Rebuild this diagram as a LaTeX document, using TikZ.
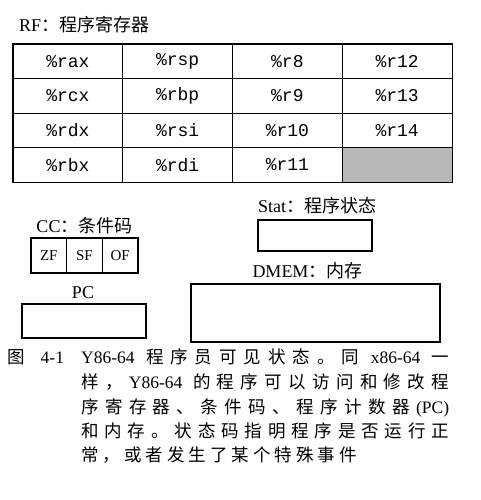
\documentclass[tikz,border=0pt]{standalone}
\usepackage{fontspec}
\setmainfont{Liberation Serif}
\setmonofont{Liberation Mono}
\newfontfamily\cjk{Noto Sans CJK SC}
\makeatletter
% spread the items of a line evenly over a fixed width
\newcommand\spreadline[2]{\makebox[#1][s]{\@tfor\@ch:=#2\do{{\@ch}\hfill}\unskip}}
% set the items of a line with a fixed gap between them
\newcommand\gapline[2]{\@tfor\@ch:=#2\do{{\@ch}\hspace{#1}}\unskip}
\makeatother
\newcommand\lat{\rmfamily}
\begin{document}
\begin{tikzpicture}[x=1pt,y=-1pt,
  reg/.style={draw, line width=0.9pt, minimum width=109.75pt, minimum height=34.5pt,
    inner sep=0pt, font=\ttfamily\fontsize{18}{18}\selectfont},
  box/.style={draw, line width=1.4pt, inner sep=0pt},
  flagbox/.style={draw, line width=1.3pt, inner sep=0pt, minimum width=35.67pt,
    minimum height=35pt, font=\fontsize{15}{15}\selectfont},
  lbl/.style={inner sep=0pt, anchor=base, font=\fontsize{18}{18}\selectfont},
  captxt/.style={inner sep=0pt, anchor=base west, font=\cjk\fontsize{17.5}{17.5}\selectfont}]
\useasboundingbox (0,0) rectangle (481,500);

% register file
\node[lbl, anchor=base west] (rf) at (19,32) {RF{\cjk ：程序寄存器}};
\node[reg] (rax) at (67.875,61.25) {\%rax};
\node[reg] (rsp) at (177.625,61.25) {\%rsp};
\node[reg] (r8)  at (287.375,61.25) {\%r8};
\node[reg] (r12) at (397.125,61.25) {\%r12};
\node[reg] (rcx) at (67.875,95.75) {\%rcx};
\node[reg] (rbp) at (177.625,95.75) {\%rbp};
\node[reg] (r9)  at (287.375,95.75) {\%r9};
\node[reg] (r13) at (397.125,95.75) {\%r13};
\node[reg] (rdx) at (67.875,130.25) {\%rdx};
\node[reg] (rsi) at (177.625,130.25) {\%rsi};
\node[reg] (r10) at (287.375,130.25) {\%r10};
\node[reg] (r14) at (397.125,130.25) {\%r14};
\node[reg] (rbx) at (67.875,164.75) {\%rbx};
\node[reg] (rdi) at (177.625,164.75) {\%rdi};
\node[reg] (r11) at (287.375,164.75) {\%r11};
\node[reg, fill=black!28] (unused) at (397.125,164.75) {};
\draw[line width=1.8pt] (rax.north west) rectangle (unused.south east);

% program status
\node[lbl] (statlbl) at (317,212) {Stat{\cjk ：程序状态}};
\node[box, minimum width=114pt, minimum height=31pt] (stat) at (315,235.5) {};

% condition codes
\node[lbl] (cclbl) at (84.5,232) {CC{\cjk ：条件码}};
\node[flagbox] (zf) at (48.8,255.5) {ZF};
\node[flagbox] (sf) at (84.5,255.5) {SF};
\node[flagbox] (of) at (120.2,255.5) {OF};

% memory
\node[lbl] (dmemlbl) at (307.5,277) {DMEM{\cjk ：内存}};
\node[box, minimum width=249pt, minimum height=58pt] (dmem) at (315.5,313) {};

% program counter
\node[lbl] (pclbl) at (83,298.5) {PC};
\node[box, minimum width=124pt, minimum height=34pt] (pc) at (84,321) {};

% caption
\node[captxt] (fig) at (7,363.5) {图\hspace{16pt}{\lat 4-1}};
\node[captxt] (c1) at (81,363.5) {\spreadline{368pt}{{\lat Y86-64\ }程序员可见状态。同{\lat\ x86-64\ }一}};
\node[captxt] (c2) at (81,388.5) {\spreadline{368pt}{样，{\lat Y86-64\ }的程序可以访问和修改程}};
\node[captxt] (c3) at (81,413) {\spreadline{368pt}{序寄存器、条件码、程序计数器{\lat (PC)}}};
\node[captxt] (c4) at (81,437.5) {\spreadline{368pt}{和内存。状态码指明程序是否运行正}};
\node[captxt] (c5) at (81,461.5) {\gapline{4pt}{常，或者发生了某个特殊事件}};
\end{tikzpicture}
\end{document}
